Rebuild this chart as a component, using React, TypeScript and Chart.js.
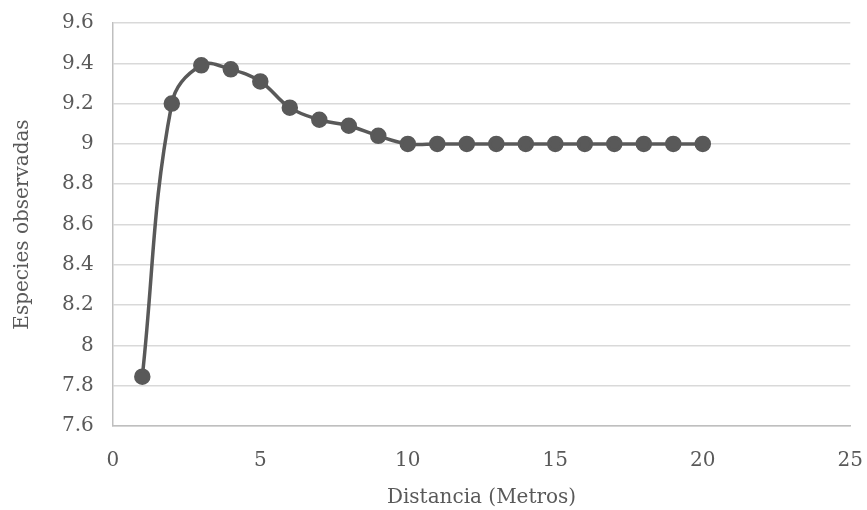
import React, { useEffect, useRef } from "react";
import { Chart, registerables } from "chart.js";

Chart.register(...registerables);

const distances = [1, 2, 3, 4, 5, 6, 7, 8, 9, 10, 11, 12, 13, 14, 15, 16, 17, 18, 19, 20];
const species = [7.845, 9.2, 9.39, 9.37, 9.31, 9.18, 9.12, 9.09, 9.04, 9.0, 9.0, 9.0, 9.0, 9.0, 9.0, 9.0, 9.0, 9.0, 9.0, 9.0];
const xTitle = "Distancia (Metros)";
const yTitle = "Especies observadas";

const W = 886;
const H = 525;

export default function App() {
  const ref = useRef<HTMLCanvasElement | null>(null);
  useEffect(() => {
    if (!ref.current) return;
    const font = "'DejaVu Serif', 'Liberation Serif', serif";
    const chart = new Chart(ref.current, {
      type: "scatter",
      data: {
        datasets: [
          {
            data: distances.map((x, i) => ({ x, y: species[i] })),
            showLine: true,
            borderColor: "#595959",
            backgroundColor: "#595959",
            borderWidth: 3.5,
            pointRadius: 6.5,
            pointHoverRadius: 6.5,
            tension: 0.4,
          },
        ],
      },
      options: {
        animation: false,
        responsive: false,
        maintainAspectRatio: false,
        layout: { padding: { left: 11, right: 2, top: 0, bottom: 7 } },
        plugins: { legend: { display: false }, tooltip: { enabled: false } },
        scales: {
          x: {
            type: "linear",
            min: 0,
            max: 25,
            ticks: { stepSize: 5, color: "#595959", font: { family: font, size: 20 }, padding: 23 },
            grid: { display: false, drawTicks: false },
            border: { display: true, color: "#bfbfbf", width: 1.5 },
            title: { display: true, text: xTitle, color: "#595959", font: { family: font, size: 20 }, padding: { top: -10, bottom: 0 } },
          },
          y: {
            min: 7.6,
            max: 9.6,
            ticks: {
              stepSize: 0.2,
              color: "#595959",
              font: { family: font, size: 20 },
              padding: 19,
              callback: (v: any) => String(Math.round(Number(v) * 10) / 10),
            },
            grid: { color: "#d9d9d9", lineWidth: 1.5, drawTicks: false },
            border: { display: true, color: "#bfbfbf", width: 1.5 },
            title: { display: true, text: yTitle, color: "#595959", font: { family: font, size: 20 }, padding: { top: 0, bottom: 8 } },
          },
        },
      },
    });
    return () => chart.destroy();
  }, []);
  return (
    <div style={{ position: "fixed", left: 0, top: 0, width: 867, height: 510, overflow: "hidden", background: "#fff" }}>
      <canvas
        ref={ref}
        width={W}
        height={H}
        style={{ position: "absolute", left: 0, top: -8, width: W, height: H }}
      />
    </div>
  );
}
